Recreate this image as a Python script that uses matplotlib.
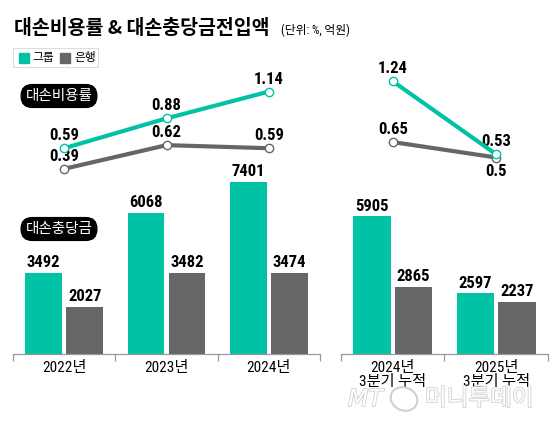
import matplotlib
matplotlib.use('Agg')
import matplotlib.pyplot as plt
import matplotlib.patheffects as pe
from matplotlib import font_manager as fm
from matplotlib.patches import Rectangle, Ellipse
import numpy as np

# data
years = ['2022년', '2023년', '2024년']
quarters = ['2024년\n3분기 누적', '2025년\n3분기 누적']
group_amt = [3492, 6068, 7401]
bank_amt = [2027, 3482, 3474]
group_amt_q = [5905, 2597]
bank_amt_q = [2865, 2237]
group_rate = [0.59, 0.88, 1.14]
bank_rate = [0.39, 0.62, 0.59]
group_rate_q = [1.24, 0.53]
bank_rate_q = [0.65, 0.5]

TEAL = '#00c2a5'
GRAY = '#666666'
W, H = 560, 424


def pick(names):
    for n in names:
        try:
            fm.findfont(fm.FontProperties(family=n), fallback_to_default=False)
            return n
        except Exception:
            pass
    return 'DejaVu Sans'


NUM = pick(['Liberation Sans Narrow', 'Roboto Condensed', 'Liberation Sans'])
KR = 'Noto Sans CJK KR'
MIX = [NUM, KR]


def fx(x):
    return x / W


def fy(y):
    return 1 - y / H


# pixel layout of the plotting band
BASE_PX, TOP_PX = 354, 40
BAR_SCALE = 0.0233      # px per 억원
LINE_ZERO_PX, LINE_SCALE = 209, 103   # px position of 0%, px per 1%p

fig = plt.figure(figsize=(W / 100, H / 100), dpi=100)


def panel(x0, x1, labels, g_amt, b_amt, g_rate, b_rate, fix_last=False):
    ax = fig.add_axes([fx(x0), fy(BASE_PX), (x1 - x0) / W, (BASE_PX - TOP_PX) / H])
    n = len(labels)
    x = np.arange(n)
    ax.set_xlim(-0.5, n - 0.5)
    ax.set_ylim(0, (BASE_PX - TOP_PX) / BAR_SCALE)
    bw, off = 0.36, 0.2
    ax.bar(x - off, g_amt, bw, color=TEAL, zorder=2)
    ax.bar(x + off, b_amt, bw, color=GRAY, zorder=2)
    for xi, v in zip(x - off, g_amt):
        ax.annotate(str(v), (xi, v), xytext=(0, 2), textcoords='offset points',
                    ha='center', va='bottom', fontsize=12, fontweight='bold', family=NUM)
    for xi, v in zip(x + off, b_amt):
        ax.annotate(str(v), (xi, v), xytext=(0, 2), textcoords='offset points',
                    ha='center', va='bottom', fontsize=12, fontweight='bold', family=NUM)
    for s in ['top', 'left', 'right']:
        ax.spines[s].set_visible(False)
    ax.spines['bottom'].set_color('#999999')
    ax.spines['bottom'].set_linewidth(0.9)
    ax.set_yticks([])
    ax.set_xticks(np.arange(-0.5, n, 1.0))
    ax.set_xticklabels([])
    ax.tick_params(axis='x', which='major', length=5, color='#999999', width=0.9)
    ax.set_xticks(x, minor=True)
    ax.set_xticklabels(labels, minor=True, family=MIX, fontsize=11, linespacing=1.05)
    ax.tick_params(axis='x', which='minor', length=0, pad=5)

    ax2 = ax.twinx()
    ax2.set_ylim((LINE_ZERO_PX - BASE_PX) / LINE_SCALE, (LINE_ZERO_PX - TOP_PX) / LINE_SCALE)
    ax2.axis('off')
    ax2.plot(x, b_rate, color=GRAY, lw=3, marker='o', ms=6, mfc='white', mec=GRAY, mew=1, zorder=3)
    ax2.plot(x, g_rate, color=TEAL, lw=3, marker='o', ms=6, mfc='white', mec=TEAL, mew=1, zorder=4)
    for i, v in enumerate(g_rate):
        ax2.annotate(f'{v:g}', (x[i], v), xytext=(0, 9), textcoords='offset points',
                     ha='center', va='center', fontsize=12, fontweight='bold', family=NUM)
    for i, v in enumerate(b_rate):
        dy = 9
        if fix_last and i == n - 1:
            dy = -10
        ax2.annotate(f'{v:g}', (x[i], v), xytext=(0, dy), textcoords='offset points',
                     ha='center', va='center', fontsize=12, fontweight='bold', family=NUM)
    return ax


panel(13, 320, years, group_amt, bank_amt, group_rate, bank_rate)
panel(341, 548, quarters, group_amt_q, bank_amt_q, group_rate_q, bank_rate_q, fix_last=True)

# title
fig.text(fx(14), fy(29), '대손비용률 & 대손충당금전입액', family=KR, fontsize=14,
         fontweight='heavy', ha='left', va='center')
fig.text(fx(281), fy(30), '(단위: %, 억원)', family=MIX, fontsize=8.5, ha='left', va='center')

# legend
fig.patches.append(Rectangle((fx(13), fy(67)), 85 / W, 19 / H, transform=fig.transFigure,
                             fill=False, edgecolor='#dddddd', lw=0.8))
fig.patches.append(Rectangle((fx(19), fy(63)), 10 / W, 10 / H, transform=fig.transFigure,
                             color=TEAL))
fig.text(fx(32), fy(58), '그룹', family=KR, fontsize=8.5, ha='left', va='center')
fig.patches.append(Rectangle((fx(60), fy(63)), 10 / W, 10 / H, transform=fig.transFigure,
                             color=GRAY))
fig.text(fx(74), fy(58), '은행', family=KR, fontsize=8.5, ha='left', va='center')

# pills
pill = dict(boxstyle='round,pad=0.3,rounding_size=0.75', fc='black', ec='black')
fig.text(fx(59), fy(96), '대손비용률', family=KR, fontsize=10.5, color='white',
         ha='center', va='center', bbox=pill)
fig.text(fx(59), fy(229), '대손충당금', family=KR, fontsize=10.5, color='white',
         ha='center', va='center', bbox=pill)

# watermark
outline = [pe.withStroke(linewidth=1.2, foreground='#d0d0d0')]
fig.text(fx(348), fy(399), 'MT', family='DejaVu Sans', fontsize=17, fontstyle='italic',
         color='white', ha='left', va='center', path_effects=outline)
fig.patches.append(Ellipse((fx(404), fy(399)), 26 / W, 24 / H, angle=20,
                           transform=fig.transFigure, fill=False,
                           edgecolor='#d0d0d0', lw=1.5))
fig.text(fx(425), fy(399), '머니투데이', family=KR, fontsize=17, color='white',
         ha='left', va='center', path_effects=outline)

fig.savefig('out.png', dpi=100)
